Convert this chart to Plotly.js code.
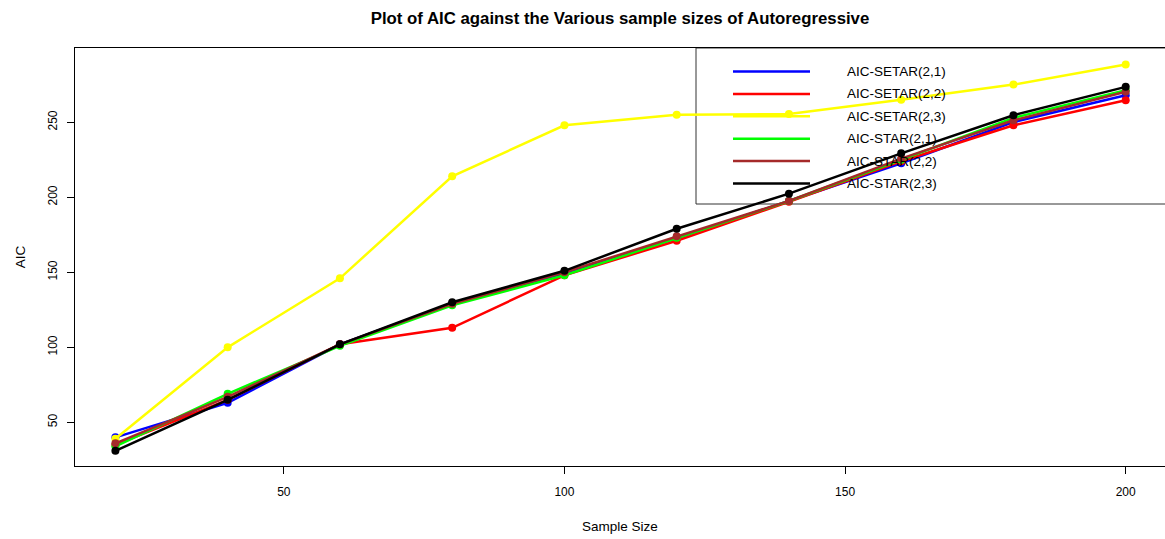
<!DOCTYPE html>
<html>
<head>
<meta charset="utf-8">
<script src="https://cdn.plot.ly/plotly-3.0.1.min.js"></script>
<style>html,body{margin:0;padding:0;background:#fff;}#chart{width:1165px;height:539px;}</style>
</head>
<body>
<div id="chart"></div>
<script>
// ---- data ----
var sampleSizes = [20, 40, 60, 80, 100, 120, 140, 160, 180, 200];
var aicSetar21 = [40, 63, 102, 129, 149, 172.7, 197.5, 222.7, 250.2, 268];
var aicSetar22 = [35, 65, 102, 113, 148, 171, 197, 224, 248, 264.7];
var aicSetar23 = [39, 100, 146, 214, 248, 255, 255.5, 265, 275.1, 288.5];
var aicStar21 = [34, 69, 101, 128, 148, 173, 197.5, 225, 252.9, 271.4];
var aicStar22 = [36, 67, 102, 129, 150, 174, 197.6, 225.8, 251.3, 270.3];
var aicStar23 = [31, 65, 102, 130, 151, 179, 202.4, 229.3, 254.7, 273.6];
var seriesNames = ["AIC-SETAR(2,1)", "AIC-SETAR(2,2)", "AIC-SETAR(2,3)", "AIC-STAR(2,1)", "AIC-STAR(2,2)", "AIC-STAR(2,3)"];
var seriesColors = ["#0000FF", "#FF0000", "#FFFF00", "#00FF00", "#A52A2A", "#000000"];
var xTickVals = [50, 100, 150, 200];
var yTickVals = [50, 100, 150, 200, 250];

var seriesValues = [aicSetar21, aicSetar22, aicSetar23, aicStar21, aicStar22, aicStar23];

var W = 1165, H = 539;
var mL = 75, mR = 0, mT = 48, mB = 73;
var pw = W - mL - mR, ph = H - mT - mB;
function px2x(p){ return (p - mL) / pw; }
function py2y(p){ return (H - mB - p) / ph; }

var traces = seriesValues.map(function(vals, i){
  return {
    x: sampleSizes, y: vals, type: 'scatter', mode: 'lines+markers',
    name: seriesNames[i], showlegend: false,
    line: {color: seriesColors[i], width: 2.5},
    marker: {color: seriesColors[i], size: 8, symbol: 'circle'}
  };
});

// manual R-style legend
var shapes = [{
  type: 'rect', xref: 'paper', yref: 'paper',
  x0: px2x(696), x1: px2x(1170), y0: py2y(204), y1: py2y(48),
  line: {color: '#333333', width: 1}, fillcolor: 'rgba(0,0,0,0)', layer: 'below'
}];
var annotations = [];
var rowY0 = 71.5, rowStep = 22.4;
seriesNames.forEach(function(nm, i){
  var py = rowY0 + i * rowStep;
  shapes.push({type: 'line', xref: 'paper', yref: 'paper',
    x0: px2x(733), x1: px2x(810), y0: py2y(py), y1: py2y(py),
    line: {color: seriesColors[i], width: 2.5}, layer: 'below'});
  annotations.push({xref: 'paper', yref: 'paper', x: px2x(845), y: py2y(py),
    xanchor: 'left', yanchor: 'middle', text: nm, showarrow: false,
    font: {family: 'Liberation Sans, Arial, sans-serif', size: 13.5, color: '#000'}});
});

var layout = {
  width: W, height: H,
  margin: {l: mL, r: mR, t: mT, b: mB, pad: 0},
  paper_bgcolor: '#fff', plot_bgcolor: '#fff',
  font: {family: 'Liberation Sans, Arial, sans-serif', size: 12, color: '#000'},
  title: {text: '<b>Plot of AIC against the Various sample sizes of Autoregressive</b>',
          font: {size: 16.8, color: '#000'}, x: 620 / W, xanchor: 'center', y: 1 - 18 / H, yanchor: 'middle'},
  xaxis: {
    range: [12.8, 207.0], tickvals: xTickVals, ticks: 'outside', ticklen: 7, tickwidth: 1, tickcolor: '#000',
    showgrid: false, zeroline: false, showline: true, mirror: true, linecolor: '#000', linewidth: 1,
    ticklabelstandoff: 8, tickfont: {size: 12},
    title: {text: 'Sample Size', font: {size: 13.5}, standoff: 23}
  },
  yaxis: {
    range: [20.9, 299.5], tickvals: yTickVals, ticks: 'outside', ticklen: 7, tickwidth: 1, tickcolor: '#000',
    tickangle: -90, showgrid: false, zeroline: false, showline: true, mirror: true, linecolor: '#000', linewidth: 1,
    ticklabelstandoff: 5, tickfont: {size: 12},
    title: {text: 'AIC', font: {size: 13.5}, standoff: 17}
  },
  shapes: shapes,
  annotations: annotations
};

Plotly.newPlot('chart', traces, layout, {displayModeBar: false, staticPlot: true});
</script>
</body>
</html>
